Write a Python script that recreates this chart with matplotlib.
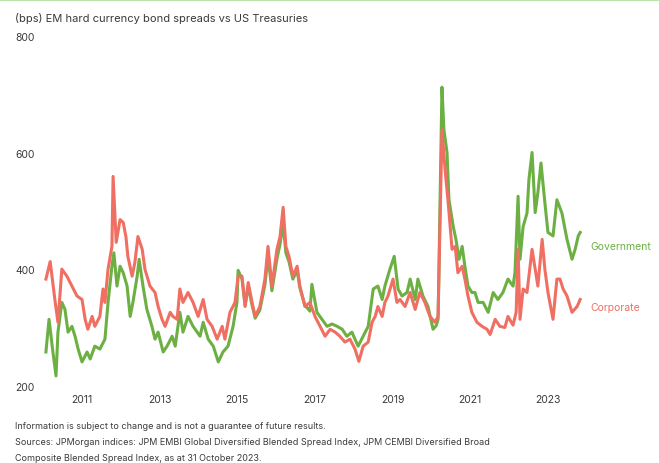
import matplotlib
matplotlib.use("Agg")
import matplotlib.pyplot as plt
import matplotlib.transforms as mtransforms

plt.rcParams['font.family'] = ['Inter', 'DejaVu Sans']

# EM hard currency spreads (bps) over US Treasuries, sampled in decimal years
gov_years = [2010.07, 2010.15, 2010.25, 2010.33, 2010.38, 2010.48, 2010.56, 2010.64, 2010.74, 2010.82,
             2010.90, 2011.00, 2011.13, 2011.21, 2011.33, 2011.46, 2011.59, 2011.67, 2011.77, 2011.82,
             2011.90, 2011.98, 2012.06, 2012.16, 2012.24, 2012.31, 2012.42, 2012.47, 2012.57, 2012.67,
             2012.80, 2012.88, 2012.96, 2013.09, 2013.19, 2013.32, 2013.40, 2013.52, 2013.60, 2013.73,
             2013.86, 2014.04, 2014.12, 2014.25, 2014.38, 2014.51, 2014.63, 2014.76, 2014.89, 2014.99,
             2015.02, 2015.12, 2015.20, 2015.28, 2015.38, 2015.46, 2015.58, 2015.71, 2015.79, 2015.89,
             2016.02, 2016.10, 2016.18, 2016.25, 2016.33, 2016.43, 2016.54, 2016.61, 2016.74, 2016.87,
             2016.92, 2017.05, 2017.18, 2017.31, 2017.44, 2017.57, 2017.70, 2017.82, 2017.95, 2018.11,
             2018.24, 2018.37, 2018.50, 2018.62, 2018.73, 2018.80, 2018.93, 2019.04, 2019.14, 2019.24,
             2019.37, 2019.45, 2019.58, 2019.65, 2019.78, 2019.91, 2020.04, 2020.12, 2020.17, 2020.27,
             2020.32, 2020.40, 2020.45, 2020.56, 2020.63, 2020.71, 2020.79, 2020.86, 2020.94, 2021.04,
             2021.12, 2021.20, 2021.33, 2021.46, 2021.59, 2021.71, 2021.84, 2021.97, 2022.10, 2022.15,
             2022.23, 2022.28, 2022.36, 2022.46, 2022.51, 2022.59, 2022.67, 2022.74, 2022.82, 2022.92,
             2023.00, 2023.13, 2023.23, 2023.36, 2023.49, 2023.62, 2023.70, 2023.78, 2023.83]
gov_bps = [260, 316, 260, 219, 294, 345, 333, 294, 304, 287,
           265, 243, 260, 248, 270, 265, 282, 345, 407, 430,
           373, 407, 396, 373, 321, 345, 390, 419, 373, 333,
           304, 282, 294, 260, 270, 287, 270, 328, 294, 321,
           304, 287, 311, 282, 270, 243, 260, 270, 304, 345,
           400, 385, 340, 372, 340, 318, 332, 375, 425, 365,
           420, 445, 480, 430, 415, 385, 400, 370, 340, 330,
           376, 328, 316, 304, 308, 304, 299, 287, 294, 270,
           287, 304, 368, 373, 350, 373, 402, 424, 368, 356,
           362, 385, 350, 385, 356, 338, 299, 305, 316, 714,
           641, 602, 521, 475, 453, 419, 441, 407, 373, 362,
           362, 345, 345, 328, 362, 350, 362, 385, 373, 396,
           527, 419, 475, 498, 556, 602, 499, 533, 584, 516,
           465, 459, 521, 498, 453, 419, 436, 459, 465]

corp_years = [2010.07, 2010.18, 2010.30, 2010.38, 2010.48, 2010.61, 2010.74, 2010.87, 2011.00, 2011.08,
              2011.15, 2011.26, 2011.33, 2011.46, 2011.54, 2011.59, 2011.67, 2011.77, 2011.80, 2011.88,
              2011.98, 2012.06, 2012.13, 2012.18, 2012.29, 2012.36, 2012.44, 2012.55, 2012.62, 2012.75,
              2012.88, 2012.96, 2013.06, 2013.14, 2013.27, 2013.34, 2013.45, 2013.52, 2013.60, 2013.73,
              2013.86, 2013.99, 2014.12, 2014.22, 2014.35, 2014.48, 2014.61, 2014.68, 2014.81, 2014.94,
              2015.02, 2015.12, 2015.20, 2015.28, 2015.38, 2015.46, 2015.58, 2015.71, 2015.79, 2015.89,
              2016.02, 2016.10, 2016.18, 2016.25, 2016.33, 2016.43, 2016.54, 2016.61, 2016.74, 2016.87,
              2017.00, 2017.13, 2017.26, 2017.39, 2017.52, 2017.64, 2017.77, 2017.90, 2018.03, 2018.13,
              2018.24, 2018.37, 2018.47, 2018.55, 2018.62, 2018.73, 2018.80, 2018.88, 2019.01, 2019.11,
              2019.19, 2019.32, 2019.45, 2019.58, 2019.70, 2019.83, 2019.96, 2020.09, 2020.17, 2020.27,
              2020.35, 2020.43, 2020.53, 2020.61, 2020.68, 2020.79, 2020.86, 2020.94, 2021.04, 2021.17,
              2021.30, 2021.43, 2021.51, 2021.64, 2021.76, 2021.89, 2021.97, 2022.10, 2022.18, 2022.23,
              2022.28, 2022.36, 2022.46, 2022.59, 2022.67, 2022.74, 2022.85, 2022.92, 2023.00, 2023.13,
              2023.23, 2023.31, 2023.39, 2023.49, 2023.62, 2023.75, 2023.83]
corp_bps = [385, 415, 350, 311, 402, 390, 373, 356, 350, 316,
            299, 321, 304, 321, 368, 345, 402, 441, 561, 448,
            487, 482, 458, 424, 390, 413, 458, 436, 402, 373,
            362, 338, 316, 304, 328, 321, 316, 368, 345, 362,
            345, 321, 350, 316, 304, 282, 304, 282, 328, 345,
            390, 390, 338, 379, 345, 321, 338, 385, 441, 373,
            436, 458, 508, 441, 424, 390, 407, 373, 338, 345,
            321, 304, 287, 299, 294, 287, 277, 282, 265, 244,
            270, 277, 311, 321, 338, 321, 345, 356, 385, 345,
            350, 338, 362, 333, 362, 345, 321, 311, 321, 641,
            573, 516, 436, 441, 396, 407, 385, 356, 328, 311,
            304, 299, 290, 316, 304, 302, 321, 306, 328, 436,
            316, 368, 362, 436, 402, 373, 453, 402, 362, 316,
            385, 385, 368, 356, 328, 338, 350]

x_ticks = [2011, 2013, 2015, 2017, 2019, 2021, 2023]
y_ticks = [200, 400, 600, 800]

GREEN = '#6cb043'
RED = '#ef6f62'
TEXT = '#3a3a3a'

W, H = 659, 464
fig = plt.figure(figsize=(W / 100, H / 100), dpi=100)

# plot area in pixels: 2010..2024 spans x 43..587, 200..800 spans y 388..38
x0, x1 = 43.2, 586.8
y_bot, y_top = 388, 38
ax = fig.add_axes([x0 / W, (H - y_bot) / H, (x1 - x0) / W, (y_bot - y_top) / H])
ax.set_xlim(2010, 2024)
ax.set_ylim(200, 800)

ax.plot(gov_years, gov_bps, color=GREEN, lw=2.2, solid_joinstyle='round', zorder=3)
ax.plot(corp_years, corp_bps, color=RED, lw=2.2, solid_joinstyle='round', zorder=4)

for s in ax.spines.values():
    s.set_visible(False)
ax.set_yticks([])
ax.set_xticks(x_ticks)
ax.set_xticklabels([str(t) for t in x_ticks], fontsize=7.5, color=TEXT)
ax.tick_params(axis='x', length=0, pad=5)

# y labels sit at the left margin of the figure
trans = mtransforms.blended_transform_factory(fig.transFigure, ax.transData)
for v in y_ticks:
    fig.text(15 / W, v, str(v), transform=trans, ha='left', va='center',
             fontsize=7.5, color=TEXT)

# series labels at the end of each line
ax.text(2024.1, gov_bps[-1] - 24, 'Government', color=GREEN, fontsize=7.5,
        va='center', ha='left', clip_on=False)
ax.text(2024.1, corp_bps[-1] - 13, 'Corporate', color=RED, fontsize=7.5,
        va='center', ha='left', clip_on=False)

fig.text(15 / W, 1 - 18 / H, '(bps) EM hard currency bond spreads vs US Treasuries',
         ha='left', va='center', fontsize=8, color=TEXT)

# thin accent rule along the top edge
fig.add_artist(plt.Line2D([0, 1], [1 - 1 / H, 1 - 1 / H], transform=fig.transFigure,
                          color='#b9e3a6', lw=1.5))

footer = [
    'Information is subject to change and is not a guarantee of future results.',
    'Sources: JPMorgan indices: JPM EMBI Global Diversified Blended Spread Index, JPM CEMBI Diversified Broad',
    'Composite Blended Spread Index, as at 31 October 2023.',
]
for i, line in enumerate(footer):
    fig.text(15 / W, 1 - (427 + 16 * i) / H, line, ha='left', va='center',
             fontsize=6.5, color=TEXT)

fig.savefig('out.png', dpi=100)
